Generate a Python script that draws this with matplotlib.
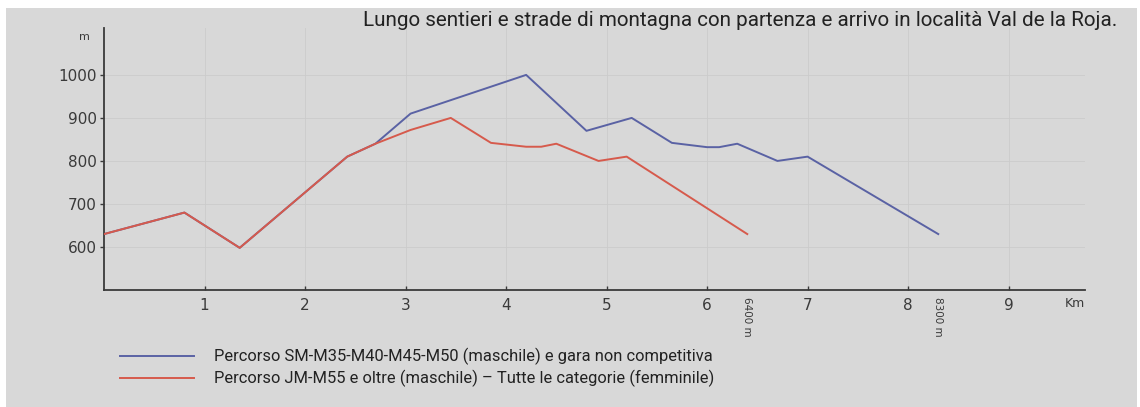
"""
Profilo altimetrico - percorsi Val de la Roja
"""
import matplotlib
matplotlib.use('Agg')
import matplotlib.pyplot as plt
from matplotlib.patches import Rectangle
from matplotlib.transforms import blended_transform_factory

# -- Data ------------------------------------------
km_long = [0, 0.8, 1.35, 2.42, 2.7, 3.05, 4.2, 4.8, 5.25, 5.65, 6.0, 6.12, 6.3, 6.7, 7.0, 8.3]
m_long  = [630, 680, 598, 810, 840, 910, 1000, 870, 900, 842, 832, 832, 840, 800, 810, 630]

km_short = [0, 0.8, 1.35, 2.42, 2.7, 3.05, 3.45, 3.85, 4.2, 4.35, 4.5, 4.92, 5.2, 6.4]
m_short  = [630, 680, 598, 810, 840, 872, 900, 842, 833, 833, 840, 800, 810, 630]

label_long  = 'Percorso SM-M35-M40-M45-M50 (maschile) e gara non competitiva'
label_short = 'Percorso JM-M55 e oltre (maschile) \u2013 Tutte le categorie (femminile)'
title = 'Lungo sentieri e strade di montagna con partenza e arrivo in località Val de la Roja.'

x_ticks = [1, 2, 3, 4, 5, 6, 7, 8, 9]
y_ticks = [600, 700, 800, 900, 1000]
end_marks = [6.4, 8.3]
end_labels = ['6400 m', '8300 m']

narrow = ['Roboto', 'DejaVu Sans']
plt.rcParams['font.family'] = ['DejaVu Sans']

col_blue = '#5a62a4'
col_red = '#d65a4c'
col_axis = '#3a3a3a'

# -- Plotting ---------------------------------------
fig = plt.figure(figsize=(11.4, 4.07), dpi=100)
fig.patch.set_facecolor('white')
fig.patches.append(Rectangle((6 / 1140, 0), 1131 / 1140, 399 / 407,
                             transform=fig.transFigure, facecolor='#d8d8d8',
                             edgecolor='none', zorder=-10))

ax = fig.add_axes([104 / 1140, 1 - 290 / 407, 981 / 1140, 262 / 407])
ax.set_facecolor('none')

ax.plot(km_long, m_long, color=col_blue, lw=1.4, label=label_long, zorder=3)
ax.plot(km_short, m_short, color=col_red, lw=1.4, label=label_short, zorder=4)

ax.set_xlim(0, 9.76)
ax.set_ylim(500, 1109)
ax.set_xticks(x_ticks)
ax.set_yticks(y_ticks)
ax.tick_params(axis='x', direction='in', length=3, width=1, colors=col_axis,
               labelsize=11, pad=6)
ax.tick_params(axis='y', direction='out', length=3, width=1, colors=col_axis,
               labelsize=11, pad=2)
ax.grid(True, color='#cbcbcb', lw=0.6)

for s in ['top', 'right']:
    ax.spines[s].set_visible(False)
for s in ['left', 'bottom']:
    ax.spines[s].set_color(col_axis)
    ax.spines[s].set_linewidth(1.3)

# axis units
ax.text(-0.19, 1087, 'm', fontsize=8, color=col_axis, ha='center', va='center')
ax.text(1.0, -0.05, 'Km', transform=ax.transAxes, fontsize=9, color=col_axis,
        ha='right', va='center')

# finish distances, written vertically under the axis
trans = blended_transform_factory(ax.transData, ax.transAxes)
for xm, lab in zip(end_marks, end_labels):
    ax.text(xm, -0.025, lab, transform=trans, rotation=270, fontsize=7.5,
            color=col_axis, ha='center', va='top')

fig.text(1117 / 1140, 1 - 20 / 407, title, family=narrow, fontsize=14.9,
         color='#222222', ha='right', va='center')

leg = fig.legend(loc='upper left', bbox_to_anchor=(105 / 1140, 1 - 333 / 407),
                 frameon=False, handlelength=4.5, handletextpad=1.2,
                 labelspacing=0.3, prop={'family': narrow, 'size': 11.9})
for t in leg.get_texts():
    t.set_color('#222222')

fig.savefig('out.png', dpi=100)
